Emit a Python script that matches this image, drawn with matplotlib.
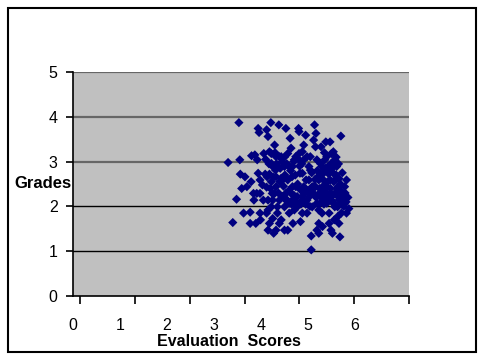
import numpy as np
import matplotlib
matplotlib.use("Agg")
import matplotlib.pyplot as plt
from matplotlib.patches import Rectangle

plt.rcParams['font.family'] = ['Liberation Sans', 'DejaVu Sans']

# scores / grades
eval_scores = [
    3.38, 3.15, 3.25, 3.33, 3.40, 3.41, 3.44, 3.48, 3.51, 3.62, 3.62, 3.64, 3.65, 3.72,
    3.70, 3.74, 3.79, 3.81, 3.77, 3.79, 3.83, 3.83, 3.84, 3.88, 3.91, 3.97, 4.00, 3.98,
    4.00, 3.97, 4.00, 4.03, 4.06, 4.07, 4.07, 4.09, 4.10, 4.12, 4.14, 4.16, 4.17, 4.20,
    4.23, 4.24, 4.24, 4.28, 4.31, 4.35, 4.38, 4.42, 4.42, 4.45, 4.47, 4.49, 4.51, 4.52,
    4.53, 4.56, 4.59, 4.62, 4.65, 4.66, 4.66, 4.68, 4.69, 4.69, 4.73, 4.76, 4.76, 4.80,
    4.81, 4.83, 4.87, 4.88, 4.90, 4.92, 4.94, 4.92, 4.97, 4.99, 5.01, 5.02, 5.04, 5.04,
    5.06, 5.08, 5.09, 5.13, 5.15, 5.16, 5.18, 5.20, 5.23, 5.25, 5.28, 5.30, 5.32, 5.32,
    5.34, 5.35, 5.37, 5.39, 5.39, 5.41, 5.42, 5.46, 5.48, 5.49, 5.53, 5.55, 5.55, 5.56,
    5.63, 5.67, 5.67,
    3.97, 4.03, 4.10, 4.17, 4.00, 4.24, 4.31, 4.38, 4.45, 4.35, 4.52, 4.59, 4.66, 4.73,
    4.76, 4.83, 4.87, 4.90, 4.97, 5.01, 5.08, 5.11, 5.15, 5.18, 5.21, 5.25, 5.28, 5.32,
    5.35, 5.39, 5.42, 5.42, 5.46, 5.49, 5.51, 5.53, 5.56, 5.60, 5.48, 5.51, 4.94, 5.08,
    5.15, 5.25, 5.01, 4.52, 4.49, 4.42, 4.17, 4.14, 4.20, 4.28, 4.07, 3.90, 3.94, 3.76,
    3.83, 3.55, 3.69, 4.07, 4.28, 4.10, 4.45, 4.59, 4.73, 4.83, 5.04, 5.21, 5.32, 5.11,
    4.73, 4.62, 4.38, 4.56, 4.73, 4.35, 4.17, 4.03, 5.08, 5.30, 5.63, 5.42, 5.35,
    4.05, 4.12, 4.18, 4.22, 4.26, 4.30, 4.33, 4.36, 4.40, 4.44, 4.48, 4.50, 4.55, 4.58,
    4.60, 4.63, 4.67, 4.70, 4.72, 4.78, 4.80, 4.85, 4.89, 4.93, 4.96, 5.00, 5.03, 5.05,
    5.10, 5.12, 5.14, 5.17, 5.19, 5.22, 5.24, 5.27, 5.29, 5.31, 5.33, 5.36, 5.38, 5.40,
    5.43, 5.45, 5.47, 5.50, 5.52, 5.54, 5.57, 5.58, 5.61, 5.64, 5.66, 5.70, 5.72, 3.95,
    4.02, 4.15, 4.25, 4.40, 5.20, 5.45, 4.35, 4.55,
]
grades = [
    3.87, 2.98, 1.64, 2.16, 3.04, 2.72, 2.40, 1.85, 2.66, 1.87, 1.62, 2.55, 3.13, 3.15,
    2.14, 1.62, 3.74, 3.65, 3.04, 2.74, 2.29, 1.85, 1.70, 2.48, 3.18, 3.71, 3.56, 2.66,
    2.14, 1.85, 1.47, 3.22, 3.87, 2.96, 2.55, 2.29, 1.73, 1.40, 3.37, 2.81, 2.44, 1.99,
    3.82, 3.11, 1.62, 2.63, 2.22, 2.89, 3.74, 3.18, 1.47, 1.85, 3.52, 3.30, 2.66, 2.14,
    1.62, 3.04, 2.44, 1.99, 3.74, 3.67, 3.18, 2.74, 2.37, 1.66, 2.14, 3.37, 3.04, 3.59,
    2.59, 1.85, 2.89, 2.22, 3.11, 1.34, 2.44, 1.03, 3.48, 3.82, 3.33, 3.63, 2.07, 1.47,
    2.66, 1.40, 2.29, 3.33, 2.89, 1.55, 2.14, 2.48, 3.44, 3.11, 2.74, 1.85, 3.44, 2.29,
    1.47, 2.96, 1.40, 3.22, 2.07, 1.70, 2.59, 2.29, 1.99, 2.44, 1.32, 3.57, 2.14, 1.85,
    2.07, 2.59, 1.85,
    2.43, 2.72, 2.14, 3.11, 1.92, 2.14, 2.59, 2.29, 2.07, 1.99, 2.89, 2.01, 3.04, 2.74,
    2.44, 2.14, 2.59, 2.81, 2.44, 2.22, 2.59, 2.07, 2.37, 2.74, 2.22, 2.44, 2.89, 2.59,
    2.14, 2.74, 2.29, 1.99, 2.89, 2.22, 2.62, 2.35, 2.07, 2.22, 1.77, 1.62, 1.99, 1.92,
    1.85, 2.07, 2.44, 2.44, 2.29, 2.59, 2.66, 2.29, 1.85, 1.70, 1.99, 2.14, 2.72, 2.29,
    2.59, 2.44, 2.29, 3.18, 3.11, 2.89, 2.89, 3.11, 3.22, 3.11, 3.04, 3.04, 2.93, 2.74,
    2.22, 2.22, 2.14, 1.92, 1.85, 1.47, 1.47, 1.62, 1.62, 1.62, 2.44, 3.04, 3.18,
    2.40, 2.65, 2.95, 2.30, 2.85, 3.00, 2.45, 2.70, 2.95, 2.35, 2.80, 2.05, 2.25, 2.70,
    2.10, 2.50, 2.90, 2.05, 2.95, 2.30, 2.05, 2.35, 2.00, 2.75, 2.30, 2.60, 2.20, 2.80,
    2.40, 2.95, 2.20, 2.60, 2.05, 2.85, 2.30, 2.55, 2.15, 2.75, 2.40, 2.85, 2.25, 2.55,
    2.05, 2.70, 2.40, 2.95, 2.15, 2.50, 2.30, 2.75, 2.00, 2.30, 2.10, 2.20, 1.95, 3.05,
    2.95, 3.20, 2.55, 2.15, 3.20, 3.10, 3.10, 3.00,
]
y_ticks = [0, 1, 2, 3, 4, 5]
x_labels = ['0', '1', '2', '3', '4', '5', '6']

fig = plt.figure(figsize=(4.83, 3.58), dpi=100)
ax = fig.add_axes([73 / 483, 62 / 358, 336 / 483, 224 / 358])
ax.set_facecolor('#c0c0c0')

# gridlines (Excel style: upper ones render grey and heavier)
for y in y_ticks[1:]:
    if y >= 3:
        ax.axhline(y, color='#666666', lw=1.6, zorder=1)
    else:
        ax.axhline(y, color='black', lw=1.0, zorder=1)

ax.scatter(eval_scores, grades, marker='D', s=22, color='#000080',
           edgecolors='none', zorder=3)

ax.set_xlim(0, 7)
ax.set_ylim(0, 5)

for side in ['top', 'right']:
    ax.spines[side].set_visible(False)
ax.spines['left'].set_linewidth(1.2)
ax.spines['bottom'].set_linewidth(1.2)

ax.set_yticks(y_ticks)
ax.set_yticklabels([str(v) for v in y_ticks], fontsize=11.5)
ax.tick_params(axis='y', direction='out', length=5, width=1.2, pad=6)

# tick marks spaced over 0..7, labels sit off the marks like the original
ax.set_xticks(np.linspace(0, 7, 7))
ax.set_xticklabels([''] * 7)
ax.tick_params(axis='x', which='major', direction='out', length=6, width=1.2)
ax.set_xticks(np.arange(7) - 0.15, minor=True)
ax.set_xticklabels(x_labels, minor=True, fontsize=11.5)
ax.tick_params(axis='x', which='minor', length=0, pad=16)

fig.text(14 / 483, 1 - 183 / 358, 'Grades', fontsize=12, fontweight='bold',
         ha='left', va='center')
fig.text(229 / 483, 1 - 341 / 358, 'Evaluation  Scores', fontsize=11.5,
         fontweight='bold', ha='center', va='center')

fig.patches.append(Rectangle((8 / 483, 6 / 358), 468 / 483, 344 / 358,
                             transform=fig.transFigure, fill=False,
                             edgecolor='black', lw=1.5))

fig.savefig('out.png', dpi=100)
